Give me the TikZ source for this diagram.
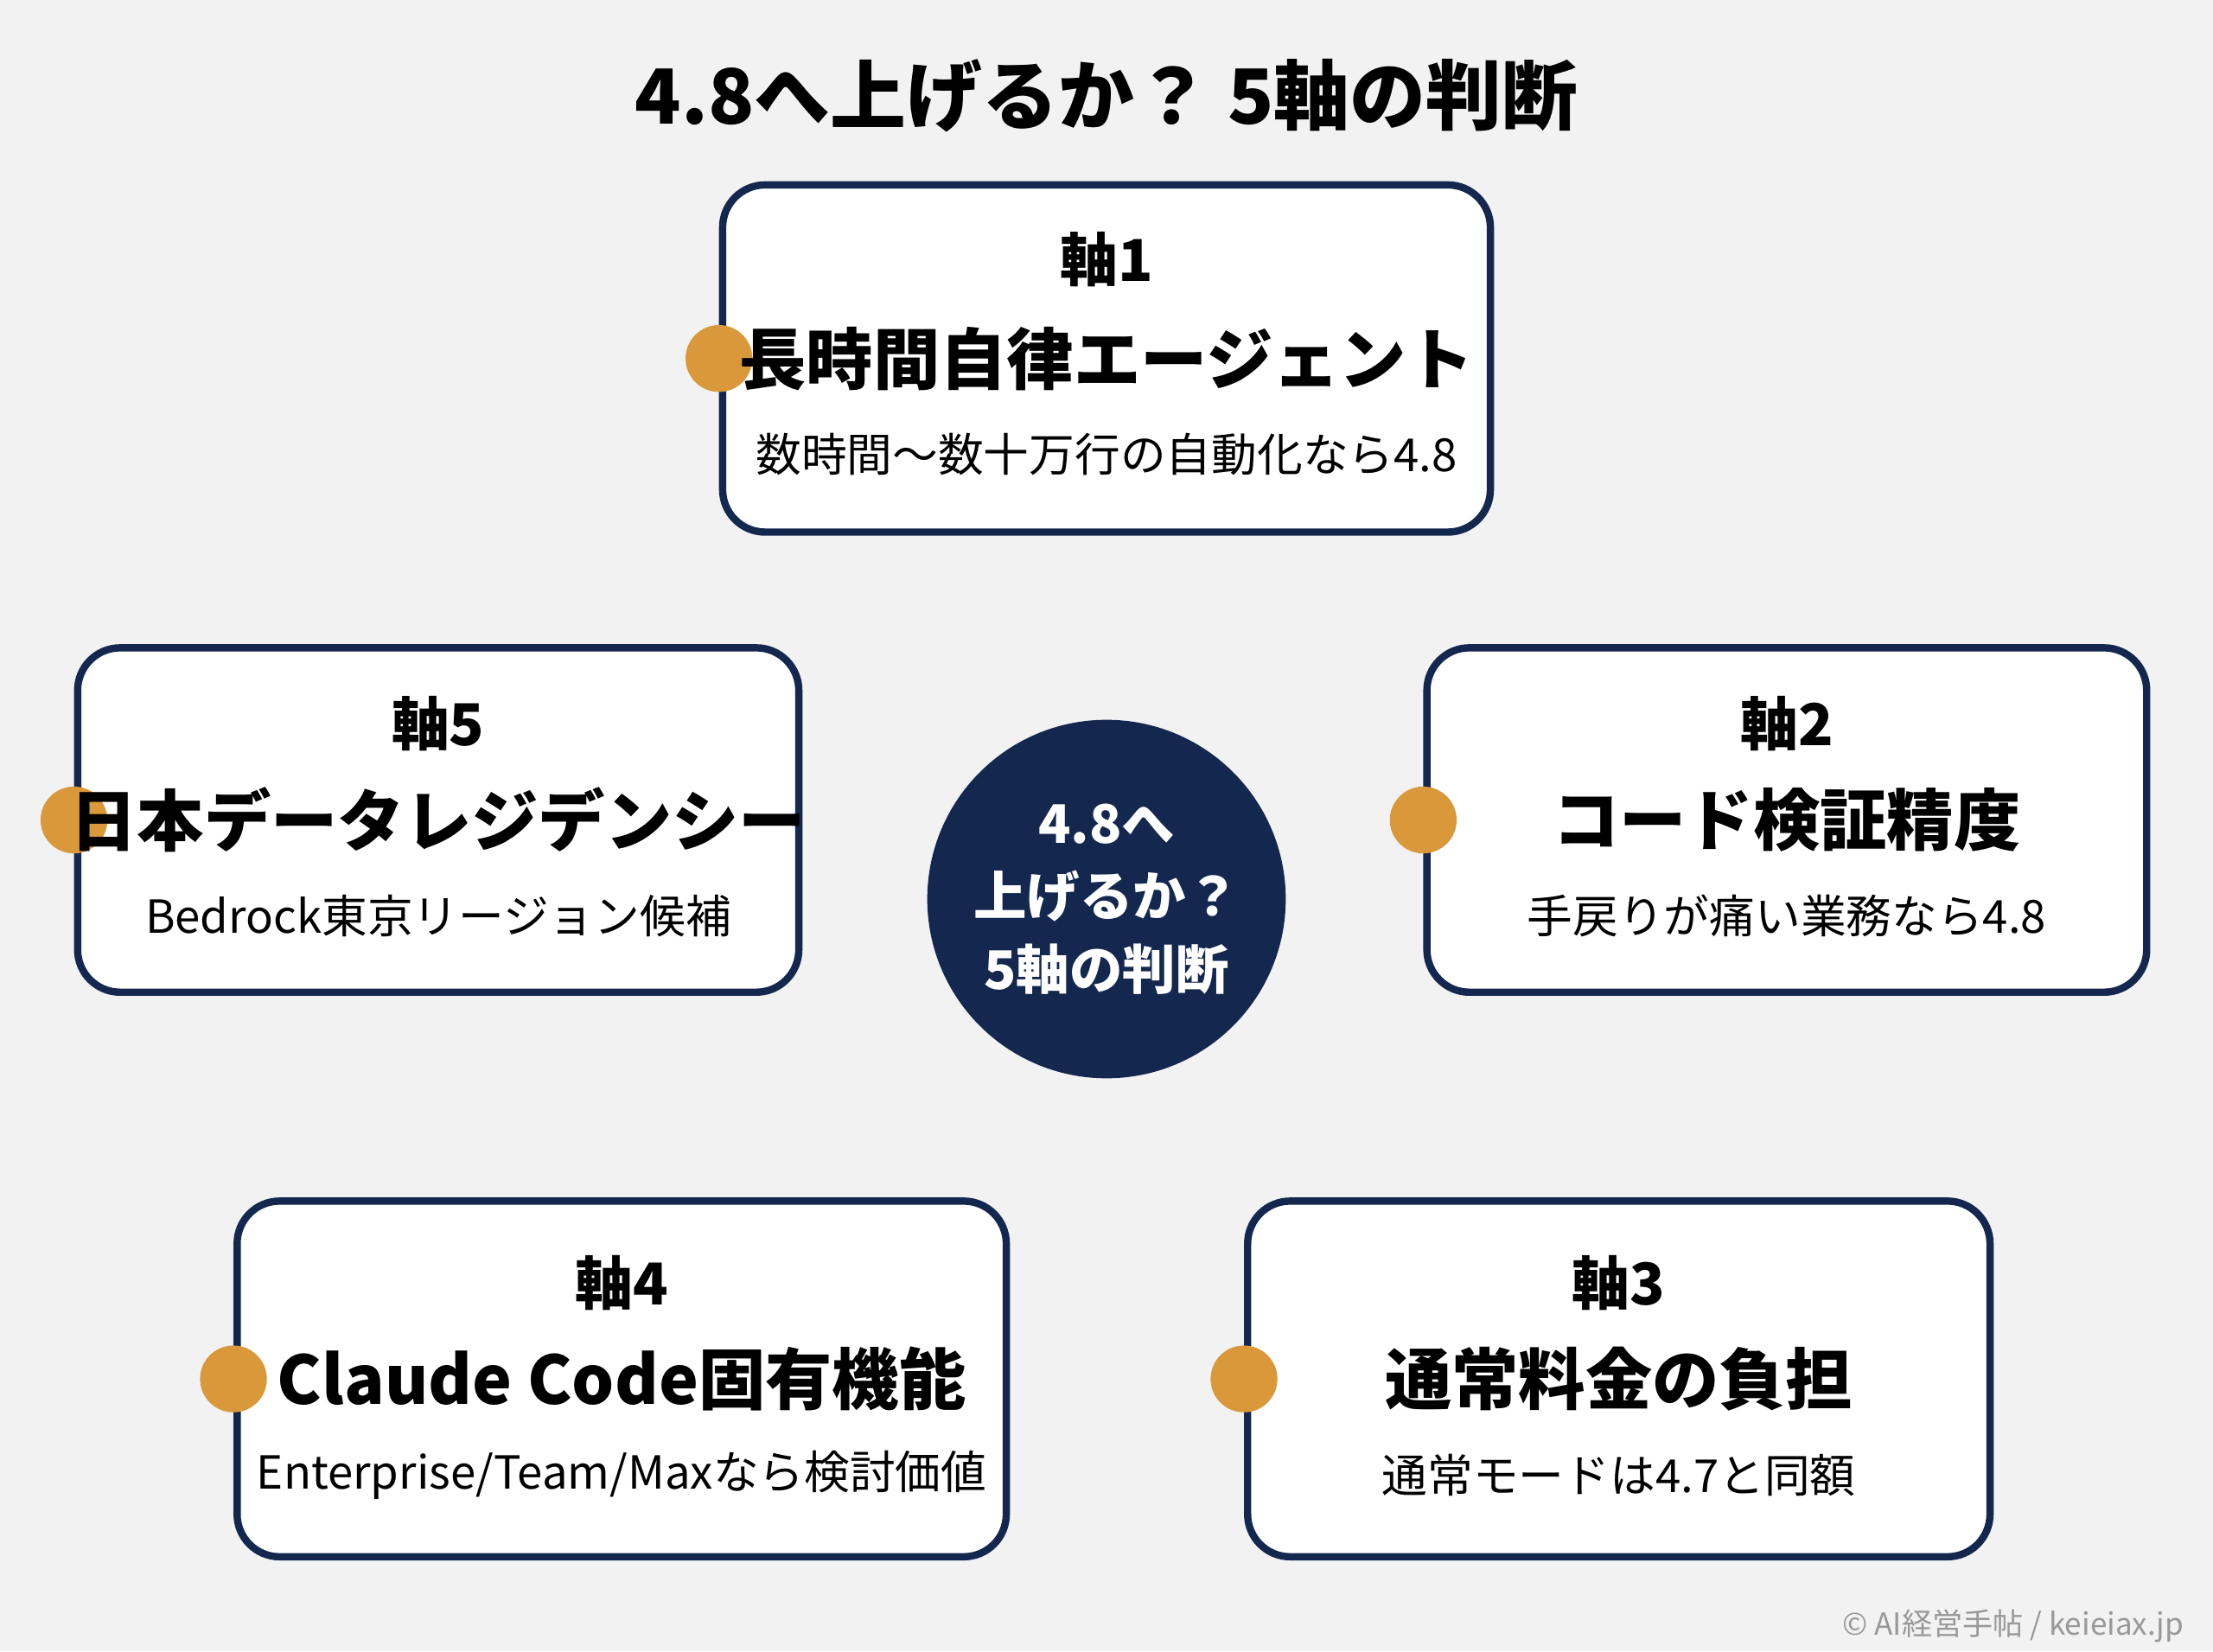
\documentclass[tikz,border=0pt]{standalone}
\usepackage{fontspec}
\setmainfont{Noto Sans CJK JP}
\newfontfamily\jpbold{Noto Sans CJK JP}[FakeBold=0,BoldFont={* Bold}]
\usetikzlibrary{positioning}
\pgfdeclarelayer{bg}
\pgfsetlayers{bg,main}
\definecolor{navy}{HTML}{14284F}
\definecolor{amber}{HTML}{D9983A}
\definecolor{paper}{HTML}{F2F2F2}
\tikzset{
  axisbox/.style={draw=navy, line width=2.4pt, rounded corners=14pt, fill=white, inner sep=0pt},
  dot/.style={circle, fill=amber, minimum size=22pt, inner sep=0pt},
  head/.style={font=\bfseries\fontsize{19}{22}\selectfont, text=black},
  big/.style={font=\bfseries\fontsize{22}{26}\selectfont, text=black},
  small/.style={font=\fontsize{15}{18}\selectfont, text=black},
  link/.style={draw=gray!75, line width=1.5pt},
}
\newcommand{\axisnode}[8]{%
  \node[axisbox, minimum width=#3*0.01633cm, minimum height=#4*0.01633cm] (#1) at (#2) {};
  \node[dot] (#1dot) at (#1.west) {};
  \node[head] (#1head) at ([yshift=#5*0.01633cm]#1.center) {#6};
  \node[big] (#1title) at (#1.center) {#7};
  \node[small] (#1note) at ([yshift=-68*0.01633cm]#1.center) {#8};
}
\begin{document}
\begin{tikzpicture}[x=0.01633cm, y=-0.01633cm]
  \fill[paper] (0,0) rectangle (1568,1170);
  \useasboundingbox (0,0) rectangle (1568,1170);

  \node[font=\bfseries\fontsize{25}{30}\selectfont] (title) at (784,68) {4.8へ上げるか？ 5軸の判断};

  \axisnode{ax1}{784,254}{544}{246}{70}{軸1}{長時間自律エージェント}{数時間〜数十万行の自動化なら4.8}
  \axisnode{ax5}{310.5,581}{511}{244}{68}{軸5}{日本データレジデンシー}{Bedrock東京リージョン候補}
  \axisnode{ax2}{1266,581}{510}{244}{68}{軸2}{コード検証精度}{手戻りが痛い業務なら4.8}
  \axisnode{ax4}{440.5,977}{545}{252}{68}{軸4}{Claude Code固有機能}{Enterprise/Team/Maxなら検討価値}
  \axisnode{ax3}{1147,977}{526}{252}{68}{軸3}{通常料金の負担}{通常モードは4.7と同額}

  \node[circle, fill=navy, minimum size=254*0.01633cm, inner sep=0pt, align=center,
        text=white, font=\bfseries\fontsize{17.5}{24}\selectfont] (hub) at (784,637)
        {4.8へ\\上げるか？\\5軸の判断};

  \begin{pgfonlayer}{bg}
    \draw[link] (hub) -- (ax1);
    \draw[link] (hub) -- (ax5dot);
    \draw[link] (hub) -- (ax2dot);
    \draw[link] (hub) -- (638,848) coordinate (c4);
    \draw[link] (hub) -- (930,848) coordinate (c3);
  \end{pgfonlayer}

  \node[anchor=east, text=gray!80, font=\fontsize{10}{12}\selectfont] (credit) at (1555,1152) {© AI経営手帖 / keieiax.jp};
\end{tikzpicture}
\end{document}
